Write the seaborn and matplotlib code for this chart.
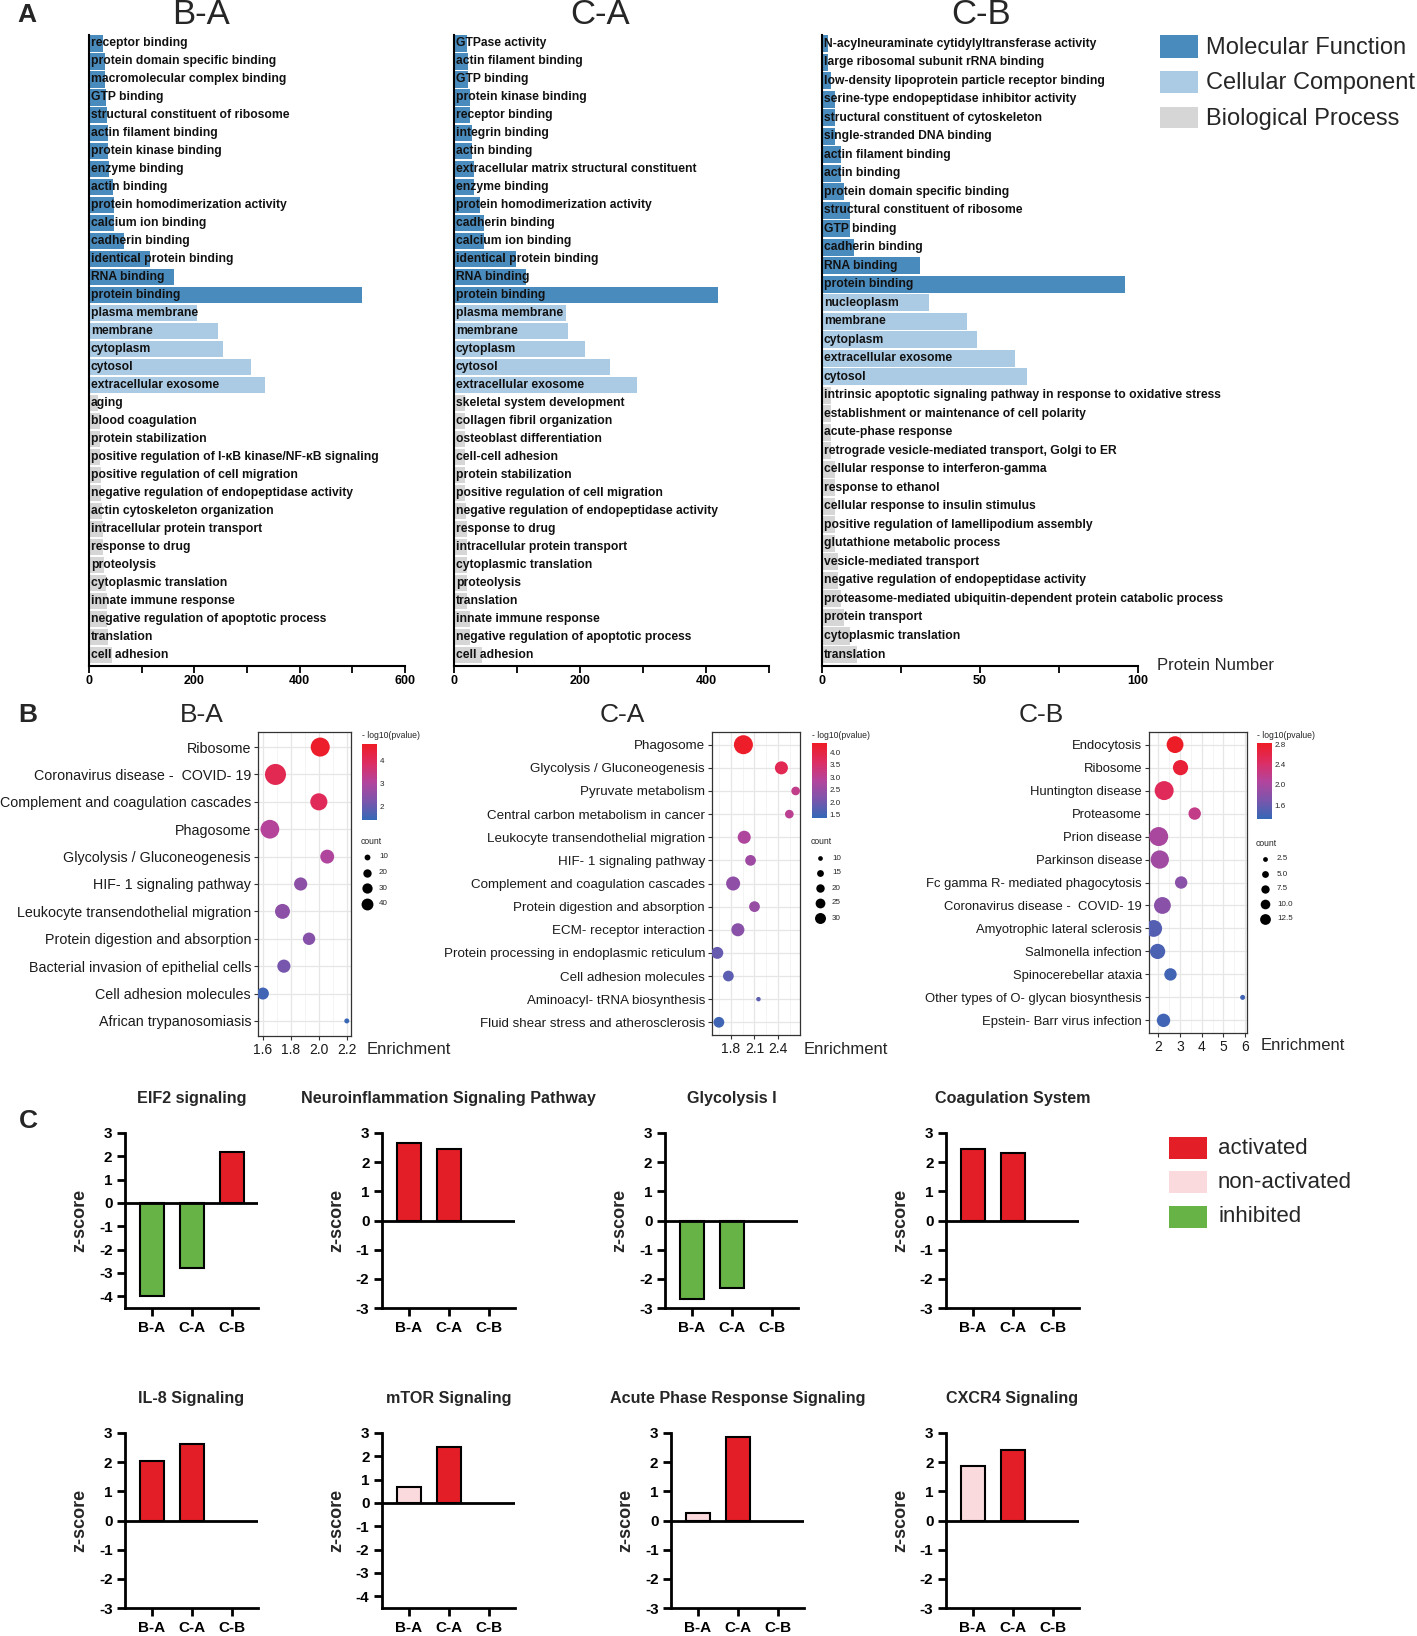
import numpy as np
import pandas as pd
import matplotlib
matplotlib.use("Agg")
import matplotlib.pyplot as plt
import seaborn as sns
from matplotlib.colors import LinearSegmentedColormap, Normalize
from matplotlib.cm import ScalarMappable
from matplotlib.patches import Rectangle

# ---------------------------------------------------------------- data: panel A (GO)
go_order = ["Molecular Function", "Cellular Component", "Biological Process"]

ba_terms = ["receptor binding", "protein domain specific binding", "macromolecular complex binding",
            "GTP binding", "structural constituent of ribosome", "actin filament binding",
            "protein kinase binding", "enzyme binding", "actin binding",
            "protein homodimerization activity", "calcium ion binding", "cadherin binding",
            "identical protein binding", "RNA binding", "protein binding",
            "plasma membrane", "membrane", "cytoplasm", "cytosol", "extracellular exosome",
            "aging", "blood coagulation", "protein stabilization",
            "positive regulation of I-κB kinase/NF-κB signaling",
            "positive regulation of cell migration", "negative regulation of endopeptidase activity",
            "actin cytoskeleton organization", "intracellular protein transport", "response to drug",
            "proteolysis", "cytoplasmic translation", "innate immune response",
            "negative regulation of apoptotic process", "translation", "cell adhesion"]
ba_counts = [27, 30, 30, 32, 34, 37, 37, 38, 46, 47, 48, 66, 116, 161, 518,
             206, 244, 255, 308, 335,
             18, 20, 21, 21, 22, 23, 25, 26, 27, 28, 32, 34, 35, 37, 43]
ba_types = ["Molecular Function"] * 15 + ["Cellular Component"] * 5 + ["Biological Process"] * 15

ca_terms = ["GTPase activity", "actin filament binding", "GTP binding", "protein kinase binding",
            "receptor binding", "integrin binding", "actin binding",
            "extracellular matrix structural constituent", "enzyme binding",
            "protein homodimerization activity", "cadherin binding", "calcium ion binding",
            "identical protein binding", "RNA binding", "protein binding",
            "plasma membrane", "membrane", "cytoplasm", "cytosol", "extracellular exosome",
            "skeletal system development", "collagen fibril organization",
            "osteoblast differentiation", "cell-cell adhesion", "protein stabilization",
            "positive regulation of cell migration", "negative regulation of endopeptidase activity",
            "response to drug", "intracellular protein transport", "cytoplasmic translation",
            "proteolysis", "translation", "innate immune response",
            "negative regulation of apoptotic process", "cell adhesion"]
ca_counts = [20, 23, 23, 25, 26, 28, 29, 32, 32, 42, 48, 48, 98, 115, 419,
             177, 181, 208, 247, 290,
             17, 17, 18, 18, 18, 18, 19, 20, 20, 20, 20, 21, 26, 26, 45]
ca_types = ["Molecular Function"] * 15 + ["Cellular Component"] * 5 + ["Biological Process"] * 15

cb_terms = ["N-acylneuraminate cytidylyltransferase activity", "large ribosomal subunit rRNA binding",
            "low-density lipoprotein particle receptor binding",
            "serine-type endopeptidase inhibitor activity", "structural constituent of cytoskeleton",
            "single-stranded DNA binding", "actin filament binding", "actin binding",
            "protein domain specific binding", "structural constituent of ribosome", "GTP binding",
            "cadherin binding", "RNA binding", "protein binding",
            "nucleoplasm", "membrane", "cytoplasm", "extracellular exosome", "cytosol",
            "intrinsic apoptotic signaling pathway in response to oxidative stress",
            "establishment or maintenance of cell polarity", "acute-phase response",
            "retrograde vesicle-mediated transport, Golgi to ER",
            "cellular response to interferon-gamma", "response to ethanol",
            "cellular response to insulin stimulus", "positive regulation of lamellipodium assembly",
            "glutathione metabolic process", "vesicle-mediated transport",
            "negative regulation of endopeptidase activity",
            "proteasome-mediated ubiquitin-dependent protein catabolic process",
            "protein transport", "cytoplasmic translation", "translation"]
cb_counts = [2, 2, 3, 4, 4, 4, 6, 6, 7, 9, 9, 10, 31, 96,
             34, 46, 49, 61, 65,
             3, 3, 3, 3, 4, 4, 4, 4, 4, 5, 5, 6, 7, 9, 11]
cb_types = ["Molecular Function"] * 14 + ["Cellular Component"] * 5 + ["Biological Process"] * 15

# ---------------------------------------------------------------- data: panel B (KEGG)
kba_terms = ["Ribosome", "Coronavirus disease -  COVID- 19", "Complement and coagulation cascades",
             "Phagosome", "Glycolysis / Gluconeogenesis", "HIF- 1 signaling pathway",
             "Leukocyte transendothelial migration", "Protein digestion and absorption",
             "Bacterial invasion of epithelial cells", "Cell adhesion molecules",
             "African trypanosomiasis"]
kba_enrich = [2.01, 1.69, 2.00, 1.65, 2.06, 1.87, 1.74, 1.93, 1.75, 1.60, 2.20]
kba_count = [37, 45, 30, 36, 20, 18, 23, 16, 18, 15, 3]
kba_logp = [4.6, 4.1, 4.0, 3.1, 3.0, 2.5, 2.5, 2.4, 2.2, 1.6, 1.5]

kca_terms = ["Phagosome", "Glycolysis / Gluconeogenesis", "Pyruvate metabolism",
             "Central carbon metabolism in cancer", "Leukocyte transendothelial migration",
             "HIF- 1 signaling pathway", "Complement and coagulation cascades",
             "Protein digestion and absorption", "ECM- receptor interaction",
             "Protein processing in endoplasmic reticulum", "Cell adhesion molecules",
             "Aminoacyl- tRNA biosynthesis", "Fluid shear stress and atherosclerosis"]
kca_enrich = [1.96, 2.44, 2.62, 2.54, 1.97, 2.05, 1.83, 2.10, 1.89, 1.63, 1.77, 2.15, 1.65]
kca_count = [32, 18, 11, 11, 18, 14, 20, 14, 18, 16, 14, 7, 14]
kca_logp = [4.3, 3.8, 3.1, 3.0, 2.8, 2.6, 2.4, 2.5, 2.3, 1.9, 1.8, 1.8, 1.5]

kcb_terms = ["Endocytosis", "Ribosome", "Huntington disease", "Proteasome", "Prion disease",
             "Parkinson disease", "Fc gamma R- mediated phagocytosis",
             "Coronavirus disease -  COVID- 19", "Amyotrophic lateral sclerosis",
             "Salmonella infection", "Spinocerebellar ataxia",
             "Other types of O- glycan biosynthesis", "Epstein- Barr virus infection"]
kcb_enrich = [2.78, 3.03, 2.28, 3.68, 2.03, 2.08, 3.06, 2.20, 1.80, 1.98, 2.57, 5.88, 2.25]
kcb_count = [11, 9, 14, 6, 14, 13, 6, 11, 11, 9, 6, 1, 7]
kcb_logp = [2.8, 2.7, 2.5, 2.2, 2.0, 1.95, 1.8, 1.8, 1.5, 1.45, 1.4, 1.4, 1.4]

# ---------------------------------------------------------------- data: panel C (z-scores)
comparisons = ["B-A", "C-A", "C-B"]
pathways = ["EIF2 signaling", "Neuroinflammation Signaling Pathway", "Glycolysis I",
            "Coagulation System", "IL-8 Signaling", "mTOR Signaling",
            "Acute Phase Response Signaling", "CXCR4 Signaling"]
z_ba = [-4.0, 2.65, -2.68, 2.46, 2.04, 0.67, 0.26, 1.87]
z_ca = [-2.8, 2.46, -2.31, 2.30, 2.64, 2.40, 2.85, 2.41]
z_cb = [2.19, np.nan, np.nan, np.nan, np.nan, np.nan, np.nan, np.nan]
state_ba = ["inhibited", "activated", "inhibited", "activated", "activated",
            "non-activated", "non-activated", "non-activated"]
state_ca = ["inhibited", "activated", "inhibited", "activated", "activated",
            "activated", "activated", "activated"]
state_cb = ["activated", None, None, None, None, None, None, None]
state_order = ["activated", "non-activated", "inhibited"]

# ---------------------------------------------------------------- style
sns.set_theme(style="white")
plt.rcParams["font.family"] = ["Liberation Sans", "DejaVu Sans"]

go_palette = {"Molecular Function": "#4a8bbd", "Cellular Component": "#abcbe5",
              "Biological Process": "#d6d6d6"}
state_palette = {"activated": "#e41e26", "non-activated": "#fadadd", "inhibited": "#67b346"}
cmap = LinearSegmentedColormap.from_list(
    "bluered", ["#3468b6", "#7c55ac", "#b4449c", "#dd2d62", "#ee1c25"])

W, H = 1417, 1636
fig = plt.figure(figsize=(W / 100, H / 100), dpi=100)
fig.patch.set_facecolor("white")


def px_ax(l, t, r, b):
    return fig.add_axes([l / W, 1 - b / H, (r - l) / W, (b - t) / H])


ov = fig.add_axes([0, 0, 1, 1], zorder=10)
ov.set_xlim(0, W)
ov.set_ylim(H, 0)
ov.axis("off")
ov.patch.set_alpha(0)


def otext(x, y, s, **kw):
    ov.text(x, y, s, **kw)


# ---------------------------------------------------------------- panel A
def go_panel(l, r, terms, counts, types, xmax, ticks, ticklabels):
    ax = px_ax(l, 35, r, 666)
    df = pd.DataFrame({"term": terms, "count": counts, "type": types})
    sns.barplot(data=df, x="count", y="term", hue="type", palette=go_palette,
                hue_order=go_order, dodge=False, width=0.92, saturation=1,
                errorbar=None, legend=False, orient="h", ax=ax, linewidth=0)
    n = len(terms)
    ax.set_ylim(n - 1 + 0.62, -0.46)
    ax.set_xlim(0, xmax)
    ax.set_yticks([])
    ax.set_xlabel("")
    ax.set_ylabel("")
    for i, t in enumerate(terms):
        ax.text(xmax * 0.006, i, t, ha="left", va="center", fontsize=8.7,
                fontweight="bold", color="#111111")
    for s in ["top", "right"]:
        ax.spines[s].set_visible(False)
    for s in ["left", "bottom"]:
        ax.spines[s].set_color("black")
        ax.spines[s].set_linewidth(1.5)
    ax.set_xticks(ticks)
    ax.set_xticklabels(ticklabels, fontsize=9, fontweight="bold")
    ax.tick_params(axis="x", direction="out", length=5, width=1.3, pad=1.5,
                   bottom=True, colors="black")
    return ax


go_panel(89, 405, ba_terms, ba_counts, ba_types, 600,
         [0, 100, 200, 300, 400, 500, 600], ["0", "", "200", "", "400", "", "600"])
go_panel(454, 769, ca_terms, ca_counts, ca_types, 500,
         [0, 100, 200, 300, 400, 500], ["0", "", "200", "", "400", ""])
go_panel(822, 1138, cb_terms, cb_counts, cb_types, 100,
         [0, 25, 50, 75, 100], ["0", "", "50", "", "100"])

otext(201, 15, "B-A", fontsize=25, ha="center", va="center")
otext(600, 15, "C-A", fontsize=25, ha="center", va="center")
otext(981, 15, "C-B", fontsize=25, ha="center", va="center")
otext(1157, 666, "Protein Number", fontsize=12, ha="left", va="center")

for (y0, y1), lab in zip([(35, 58), (71, 93), (107, 128)], go_order):
    ov.add_patch(Rectangle((1160, y0), 38, y1 - y0, color=go_palette[lab], lw=0))
    otext(1206, (y0 + y1) / 2 + 1, lab, fontsize=17, ha="left", va="center")


# ---------------------------------------------------------------- panel B
def kegg_panel(box, terms, enrich, counts, logp, xlim, xticks, xticklabels, minors,
               pnorm, cnorm, srange, cbar_box, cticks, cticklabels, leg_counts, leg_labels,
               leg_x, leg_y0, leg_dy, title, title_x, enrich_xy, label_size):
    l, t, r, b = box
    ax = px_ax(l, t, r, b)
    df = pd.DataFrame({"term": terms, "enrich": enrich, "count": counts, "logp": logp})
    sns.scatterplot(data=df, x="enrich", y="term", hue="logp", palette=cmap, hue_norm=pnorm,
                    size="count", sizes=srange, size_norm=cnorm, legend=False, ax=ax,
                    linewidth=0, zorder=3)
    n = len(terms)
    ax.set_ylim(n - 1 + 0.55, -0.55)
    ax.set_xlim(*xlim)
    ax.set_xticks(xticks)
    ax.set_xticklabels(xticklabels, fontsize=10, color="#1a1a1a")
    ax.set_xticks(minors, minor=True)
    ax.tick_params(axis="y", labelsize=label_size, labelcolor="#1a1a1a")
    ax.tick_params(which="major", length=3, width=0.8, color="#333333", left=True,
                   bottom=True, pad=2)
    ax.tick_params(which="minor", length=0)
    ax.grid(True, which="major", color="#e6e6e6", lw=0.9)
    ax.grid(True, which="minor", axis="x", color="#f2f2f2", lw=0.6)
    ax.set_axisbelow(True)
    ax.set_xlabel("")
    ax.set_ylabel("")
    for s in ax.spines.values():
        s.set_color("#333333")
        s.set_linewidth(0.9)
    # colour bar
    cl, ct, cr, cbm = cbar_box
    cax = px_ax(cl, ct, cr, cbm)
    sm = ScalarMappable(norm=Normalize(*pnorm), cmap=cmap)
    cb = fig.colorbar(sm, cax=cax)
    cb.outline.set_visible(False)
    cb.set_ticks(cticks)
    cb.set_ticklabels(cticklabels)
    cax.tick_params(labelsize=5.8, length=3, width=0.6, color="white", direction="in", pad=2)
    otext(cl, ct - 8, "- log10(pvalue)", fontsize=6.2, ha="left", va="center")
    otext(cl - 1, leg_y0 - 16, "count", fontsize=6.2, ha="left", va="center")
    smin, smax = srange
    cmin, cmax = cnorm
    for k, (c, lab) in enumerate(zip(leg_counts, leg_labels)):
        s = smin + (c - cmin) / (cmax - cmin) * (smax - smin)
        ov.scatter([leg_x], [leg_y0 + k * leg_dy], s=0.36 * s, color="black", lw=0)
        otext(leg_x + 12, leg_y0 + k * leg_dy, lab, fontsize=5.8, ha="left", va="center")
    otext(title_x, 715, title, fontsize=19, ha="center", va="center")
    otext(enrich_xy[0], enrich_xy[1], "Enrichment", fontsize=12, ha="left", va="center")


kegg_panel((258, 732, 351, 1036), kba_terms, kba_enrich, kba_count, kba_logp,
           (1.565, 2.23), [1.6, 1.8, 2.0, 2.2], ["1.6", "1.8", "2.0", "2.2"],
           [1.7, 1.9, 2.1], (1.44, 4.7), (3, 45), (13, 229),
           (362, 744, 377, 820), [2, 3, 4], ["2", "3", "4"],
           [10, 20, 30, 40], ["10", "20", "30", "40"], 367, 857, 15.5, "B-A", 202, (367, 1049),
           10.3)
kegg_panel((712, 732, 800, 1035), kca_terms, kca_enrich, kca_count, kca_logp,
           (1.563, 2.675), [1.8, 2.1, 2.4], ["1.8", "2.1", "2.4"],
           [1.65, 1.95, 2.25, 2.55], (1.38, 4.37), (7, 32), (10.5, 187),
           (812, 743, 827, 818), [1.5, 2.0, 2.5, 3.0, 3.5, 4.0],
           ["1.5", "2.0", "2.5", "3.0", "3.5", "4.0"],
           [10, 15, 20, 25, 30], ["10", "15", "20", "25", "30"], 820, 858, 15, "C-A", 622,
           (804, 1049), 9.6)
kegg_panel((1149, 732, 1247, 1033), kcb_terms, kcb_enrich, kcb_count, kcb_logp,
           (1.585, 6.08), [2, 3, 4, 5, 6], ["2", "3", "4", "5", "6"],
           [2.5, 3.5, 4.5, 5.5], (1.33, 2.82), (1, 14), (13, 187),
           (1257, 743, 1272, 819), [1.6, 2.0, 2.4, 2.8], ["1.6", "2.0", "2.4", "2.8"],
           [2.5, 5.0, 7.5, 10.0, 12.5], ["2.5", "5.0", "7.5", "10.0", "12.5"], 1265, 859, 15,
           "C-B", 1041, (1261, 1045), 9.4)


# ---------------------------------------------------------------- panel C
def z_panel(l, t, title, vals, states, ymin):
    ax = px_ax(l, t, l + 133, t + 175)
    df = pd.DataFrame({"cmp": comparisons, "z": vals, "state": states}).dropna()
    sns.barplot(data=df, x="cmp", y="z", hue="state", order=comparisons, hue_order=state_order,
                palette=state_palette, dodge=False, width=0.6, saturation=1, errorbar=None,
                legend=False, edgecolor="black", linewidth=1.5, ax=ax)
    ax.axhline(0, color="black", lw=2, zorder=4)
    ax.set_xlim(-0.67, 2.65)
    ax.set_ylim(ymin, 3)
    yt = list(range(int(np.ceil(ymin)), 4))
    ax.set_yticks(yt)
    ax.set_yticklabels([str(v) for v in yt], fontsize=11, fontweight="bold")
    ax.set_xticks(range(3))
    ax.set_xticklabels(comparisons, fontsize=11, fontweight="bold")
    ax.tick_params(axis="both", direction="out", length=6, width=2, colors="black",
                   left=True, bottom=True, pad=3)
    for s in ["top", "right"]:
        ax.spines[s].set_visible(False)
    for s in ["left", "bottom"]:
        ax.spines[s].set_color("black")
        ax.spines[s].set_linewidth(2)
    ax.set_xlabel("")
    ax.set_ylabel("z-score", fontsize=13, fontweight="bold")
    ax.yaxis.set_label_coords(-0.28, 0.5)
    ax.text(0.5, 1 + 34 / 175, title, transform=ax.transAxes, ha="center", va="center",
            fontsize=11.6, fontweight="bold")


col_x = [[125, 382, 665, 946], [125, 382, 671, 946]]
row_t = [1133, 1433]
y_min = [-4.5, -3, -3, -3, -3, -4.5, -3, -3]
for i, p in enumerate(pathways):
    z_panel(col_x[i // 4][i % 4], row_t[i // 4], p, [z_ba[i], z_ca[i], z_cb[i]],
            [state_ba[i], state_ca[i], state_cb[i]], y_min[i])

for (y0, y1), lab in zip([(1137, 1159), (1171, 1193), (1206, 1228)], state_order):
    ov.add_patch(Rectangle((1169, y0), 38, y1 - y0, color=state_palette[lab], lw=0))
    otext(1218, (y0 + y1) / 2, lab, fontsize=16, ha="left", va="center")

# panel letters
otext(27, 15, "A", fontsize=19, fontweight="bold", ha="center", va="center")
otext(28, 715, "B", fontsize=19, fontweight="bold", ha="center", va="center")
otext(28, 1121, "C", fontsize=19, fontweight="bold", ha="center", va="center")

fig.savefig("out.png", dpi=100, facecolor="white")
